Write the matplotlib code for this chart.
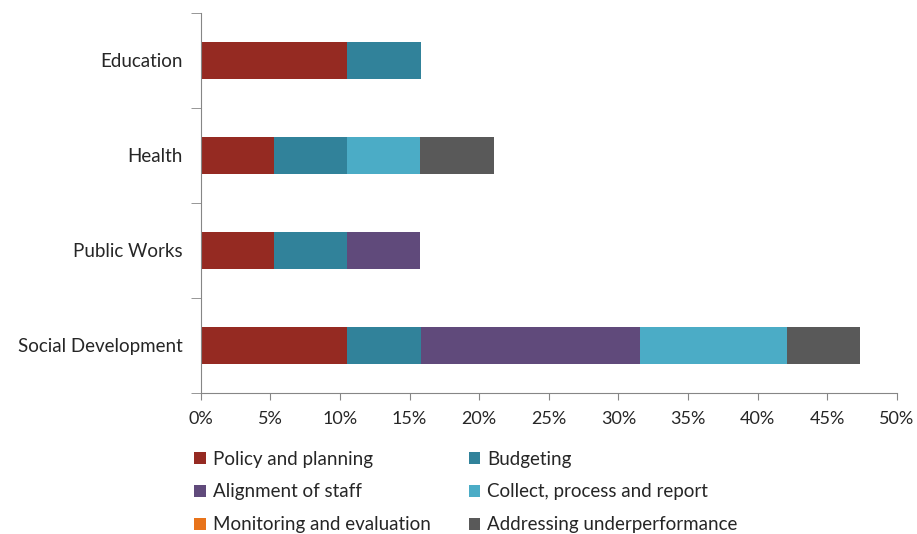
import numpy as np
import matplotlib
matplotlib.use('Agg')
from matplotlib import pyplot as plt

plt.rcParams['font.family'] = ['Lato', 'DejaVu Sans']

# data (share of responses, %)
categories = ['Social Development', 'Public Works', 'Health', 'Education']
series = ['Policy and planning', 'Budgeting', 'Alignment of staff',
          'Collect, process and report', 'Monitoring and evaluation',
          'Addressing underperformance']
policy = [10.53, 5.26, 5.26, 10.53]
budgeting = [5.26, 5.26, 5.26, 5.26]
alignment = [15.79, 5.26, 0, 0]
collect = [10.53, 0, 5.26, 0]
monitoring = [0, 0, 0, 0]
addressing = [5.26, 0, 5.26, 0]
colors = ['#952A22', '#31829A', '#604A7B', '#4BACC6', '#E8731A', '#595959']

values = [policy, budgeting, alignment, collect, monitoring, addressing]

fig = plt.figure(figsize=(9.17, 5.34), dpi=100)
ax = fig.add_axes([0.219, 0.264, 0.759, 0.712])

y = np.arange(len(categories))
left = np.zeros(len(categories))
for name, vals, c in zip(series, values, colors):
    ax.barh(y, vals, left=left, height=0.39, color=c, label=name)
    left += np.array(vals)

ax.set_xlim(0, 50)
ax.set_ylim(-0.5, len(categories) - 0.5)
ax.set_xticks(np.arange(0, 51, 5))
ax.set_xticklabels([f'{v}%' for v in range(0, 51, 5)])
ax.set_yticks(y)
ax.set_yticklabels(categories)
ax.set_yticks(np.arange(-0.5, len(categories), 1), minor=True)
ax.tick_params(axis='y', which='major', length=0, pad=13, labelsize=13.5, labelcolor='#262626')
ax.tick_params(axis='y', which='minor', length=7, color='#868686')
ax.tick_params(axis='x', length=5, color='#868686', pad=8, labelsize=13, labelcolor='#262626')

for s in ['top', 'right']:
    ax.spines[s].set_visible(False)
for s in ['left', 'bottom']:
    ax.spines[s].set_color('#868686')

# legend is filled row by row in the reference
handles, labels = ax.get_legend_handles_labels()
order = [0, 2, 4, 1, 3, 5]
fig.legend([handles[i] for i in order], [labels[i] for i in order],
           loc='upper left', bbox_to_anchor=(0.212, 0.156),
           ncol=2, frameon=False, fontsize=13.5, handlelength=0.6, handleheight=0.6,
           handletextpad=0.4, labelspacing=0.84, columnspacing=2.0,
           borderaxespad=0, borderpad=0, labelcolor='#262626')

plt.savefig('out.png', dpi=100)
